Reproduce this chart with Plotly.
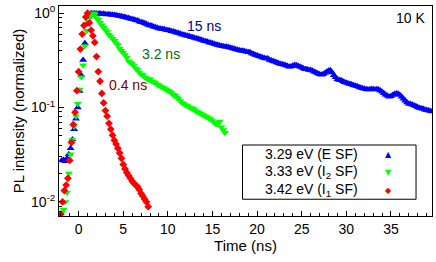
import plotly.graph_objects as go

# ---- data ----
t_blue = [-1.9, -1.7, -1.5, -1.3, -1.1, -0.9, -0.7, -0.5, -0.3, -0.1, 0.1, 0.3, 0.5, 0.7, 0.9, 1.1,
          1.4, 1.6, 1.8, 2.0, 2.2, 2.4, 2.6, 2.8, 3.0, 3.2, 3.4, 3.6, 3.8, 4.0, 4.2, 4.4, 4.6, 4.8,
          5.0, 5.2, 5.4, 5.6, 5.8, 6.0, 6.2, 6.4, 6.6, 6.8, 7.0, 7.2, 7.4, 7.6, 7.8, 8.0, 8.2, 8.4,
          8.6, 8.8, 9.0, 9.2, 9.4, 9.6, 9.8, 10.0, 10.2, 10.4, 10.6, 10.8, 11.0, 11.2, 11.4, 11.6,
          11.8, 12.0, 12.2, 12.4, 12.6, 12.8, 13.0, 13.2, 13.4, 13.6, 13.8, 14.0, 14.2, 14.4, 14.6,
          14.8, 15.0, 15.2, 15.4, 15.6, 15.8, 16.0, 16.2, 16.4, 16.6, 16.8, 17.0, 17.2, 17.4, 17.6,
          17.8, 18.0, 18.2, 18.4, 18.6, 18.8, 19.0, 19.2, 19.4, 19.6, 19.8, 20.0, 20.2, 20.4, 20.6,
          20.8, 21.0, 21.2, 21.4, 21.6, 21.8, 22.0, 22.2, 22.4, 22.6, 22.8, 23.0, 23.2, 23.4, 23.6,
          23.8, 24.0, 24.2, 24.4, 24.6, 24.8, 25.0, 25.2, 25.4, 25.6, 25.8, 26.0, 26.2, 26.4, 26.6,
          26.8, 27.0, 27.2, 27.4, 27.6, 27.8, 28.0, 28.2, 28.4, 28.6, 28.8, 29.0, 29.2, 29.4, 29.6,
          29.8, 30.0, 30.2, 30.4, 30.6, 30.8, 31.0, 31.2, 31.4, 31.6, 31.8, 32.0, 32.2, 32.4, 32.6,
          32.8, 33.0, 33.2, 33.4, 33.6, 33.8, 34.0, 34.2, 34.4, 34.6, 34.8, 35.0, 35.2, 35.4, 35.6,
          35.8, 36.0, 36.2, 36.4, 36.6, 36.8, 37.0, 37.2, 37.4, 37.6, 37.8, 38.0, 38.2, 38.4, 38.6,
          38.8, 39.0, 39.2, 39.4, 39.6]
i_blue = [0.0275, 0.028, 0.027, 0.029, 0.032, 0.037, 0.046, 0.059, 0.076, 0.10, 0.15, 0.22, 0.32,
          0.48, 0.76, 0.91,
          1.0, 0.99, 1.0, 0.99, 0.985, 0.99, 0.98, 0.985, 0.975, 0.97, 0.975, 0.965, 0.96, 0.955,
          0.95, 0.94, 0.935, 0.925, 0.91, 0.91, 0.895, 0.89, 0.875, 0.86, 0.855, 0.84, 0.835, 0.815,
          0.80, 0.795, 0.78, 0.77, 0.75, 0.74, 0.735, 0.72, 0.715, 0.70, 0.69, 0.685, 0.68, 0.675,
          0.665, 0.66, 0.655, 0.645, 0.64, 0.63, 0.62, 0.615, 0.605, 0.595, 0.59, 0.58, 0.575, 0.57,
          0.56, 0.555, 0.547, 0.54, 0.535, 0.525, 0.52, 0.51, 0.505, 0.50, 0.49, 0.485, 0.48, 0.47,
          0.465, 0.46, 0.455, 0.45, 0.445, 0.44, 0.44, 0.435, 0.43, 0.425, 0.42, 0.415, 0.41, 0.405,
          0.40, 0.40, 0.395, 0.39, 0.385, 0.385, 0.375, 0.37, 0.36, 0.355, 0.35, 0.345, 0.34, 0.335,
          0.33, 0.33, 0.32, 0.315, 0.31, 0.305, 0.30, 0.295, 0.29, 0.288, 0.285, 0.28, 0.275, 0.27,
          0.272, 0.278, 0.282, 0.28, 0.275, 0.27, 0.265, 0.26, 0.255, 0.255, 0.25, 0.25, 0.245, 0.24,
          0.235, 0.23, 0.225, 0.222, 0.225, 0.232, 0.24, 0.245, 0.248, 0.235, 0.22, 0.21, 0.20, 0.196,
          0.195, 0.19, 0.185, 0.183, 0.18, 0.178, 0.175, 0.172, 0.17, 0.168, 0.165, 0.162, 0.16,
          0.158, 0.156, 0.155, 0.155, 0.157, 0.156, 0.155, 0.156, 0.155, 0.152, 0.147, 0.142, 0.137,
          0.133, 0.13, 0.132, 0.136, 0.139, 0.141, 0.14, 0.136, 0.13, 0.124, 0.118, 0.113, 0.11,
          0.109, 0.107, 0.105, 0.103, 0.101, 0.099, 0.098, 0.097, 0.095, 0.094, 0.093, 0.092, 0.091]

t_green = [-1.9, -1.7, -1.5, -1.3, -1.1, -0.9, -0.7, -0.5, -0.3, -0.1, 0.1, 0.3, 0.5, 0.7, 0.9, 1.1,
           1.3, 1.5, 1.7, 1.8, 2.0, 2.2, 2.4, 2.6, 2.8, 3.0, 3.2, 3.4, 3.6, 3.8, 4.0, 4.2, 4.4, 4.6,
           4.8, 5.0, 5.2, 5.4, 5.6, 5.8, 6.0, 6.2, 6.4, 6.6, 6.8, 7.0, 7.2, 7.4, 7.6, 7.8, 8.0, 8.2,
           8.4, 8.6, 8.8, 9.0, 9.2, 9.4, 9.6, 9.8, 10.0, 10.2, 10.4, 10.6, 10.8, 11.0, 11.2, 11.4,
           11.6, 11.8, 12.0, 12.2, 12.4, 12.6, 12.8, 13.0, 13.2, 13.4, 13.6, 13.8, 14.0, 14.2, 14.4,
           14.6, 14.8, 15.0, 15.2, 15.4, 15.6, 15.8, 16.0, 16.2, 16.4]
i_green = [0.0076, 0.0083, 0.010, 0.0126, 0.020, 0.032, 0.046, 0.063, 0.081, 0.11, 0.155, 0.21, 0.28,
           0.45, 0.65, 0.81, 0.91, 0.98, 1.0, 0.97, 0.89, 0.85, 0.79, 0.745, 0.70, 0.665, 0.63, 0.59,
           0.565, 0.535, 0.51, 0.48, 0.46, 0.42, 0.40, 0.38, 0.36, 0.34, 0.31, 0.30, 0.29, 0.275, 0.26,
           0.25, 0.235, 0.225, 0.22, 0.21, 0.205, 0.20, 0.20, 0.19, 0.186, 0.182, 0.176, 0.172, 0.167,
           0.163, 0.16, 0.155, 0.151, 0.148, 0.143, 0.137, 0.133, 0.128, 0.123, 0.117, 0.112, 0.109,
           0.106, 0.104, 0.101, 0.099, 0.097, 0.094, 0.091, 0.089, 0.087, 0.085, 0.083, 0.081, 0.079,
           0.077, 0.075, 0.072, 0.069, 0.067, 0.066, 0.071, 0.062, 0.058, 0.054]

t_red = [-2.0, -1.8, -1.6, -1.4, -1.2, -1.0, -0.8, -0.6, -0.4, -0.2, 0.0, 0.2, 0.4, 0.6, 0.8, 1.0,
         1.2, 1.4, 1.6, 1.8, 2.0, 2.2, 2.4, 2.6, 2.8, 3.0, 3.2, 3.4, 3.6, 3.8, 4.0, 4.2, 4.4, 4.6, 4.8,
         5.0, 5.2, 5.4, 5.6, 5.8, 6.0, 6.2, 6.4, 6.6, 6.8, 7.0, 7.2, 7.4, 7.6, 7.8]
i_red = [0.0074, 0.010, 0.0132, 0.0151, 0.0178, 0.0275, 0.0427, 0.066, 0.089, 0.151, 0.24, 0.417, 0.60,
         0.74, 0.91, 1.0, 0.79, 0.66, 0.575, 0.49, 0.347, 0.24, 0.19, 0.141, 0.112, 0.093, 0.081, 0.068,
         0.059, 0.051, 0.045, 0.041, 0.037, 0.033, 0.029, 0.025, 0.0224, 0.0204, 0.0191, 0.0178, 0.0166,
         0.0158, 0.0151, 0.0145, 0.0135, 0.0123, 0.0115, 0.0107, 0.0100, 0.0089]

series_names = ["3.29 eV (E SF)", "3.33 eV (I<sub>2</sub> SF)", "3.42 eV (I<sub>1</sub> SF)"]
lifetime_labels = ["15 ns", "3.2 ns", "0.4 ns"]
x_ticks = [0, 5, 10, 15, 20, 25, 30, 35]
y_ticks = [0.01, 0.1, 1]
y_ticktext = ["10<sup>-2</sup>", "10<sup>-1</sup>", "10<sup>0</sup>"]

FONT = "Liberation Sans, Arial, Helvetica, sans-serif"

fig = go.Figure()
fig.add_trace(go.Scatter(x=t_blue, y=i_blue, mode="markers", name=series_names[0],
                         marker=dict(symbol="triangle-up", size=7, color="#0000ff", line=dict(width=0))))
fig.add_trace(go.Scatter(x=t_green, y=i_green, mode="markers", name=series_names[1],
                         marker=dict(symbol="triangle-down", size=7, color="#00ff00", line=dict(width=0))))
fig.add_trace(go.Scatter(x=t_red, y=i_red, mode="markers", name=series_names[2],
                         marker=dict(symbol="diamond", size=6, color="#ff0000", line=dict(width=0))))

L, R, T, B = 59, 3, 3, 46
W, H = 436, 262
pw, ph = W - L - R, H - T - B


def px(x):
    return (x - L) / pw


def py(y):
    return (H - B - y) / ph


annotations = [
    dict(x=px(185), y=py(23), text=lifetime_labels[0], xanchor="left", yanchor="middle",
         font=dict(color="#000090", size=14)),
    dict(x=px(140), y=py(52), text=lifetime_labels[1], xanchor="left", yanchor="middle",
         font=dict(color="#007000", size=14)),
    dict(x=px(107), y=py(83), text=lifetime_labels[2], xanchor="left", yanchor="middle",
         font=dict(color="#800000", size=14)),
    dict(x=px(428), y=py(15), text="10 K", xanchor="right", yanchor="middle",
         font=dict(color="black", size=14)),
]
legend_rows = [153.3, 171.7, 190.0]
legend_syms = ["▲", "▼", "◆"]
legend_cols = ["#0000ff", "#00ff00", "#ff0000"]
for name, yy, sym, col in zip(series_names, legend_rows, legend_syms, legend_cols):
    annotations.append(dict(x=px(361), y=py(yy), text=name, xanchor="right", yanchor="middle",
                            font=dict(color="black", size=14)))
    annotations.append(dict(x=px(389), y=py(yy), text=sym, xanchor="center", yanchor="middle",
                            font=dict(color=col, size=8, family="DejaVu Sans")))
for a in annotations:
    a.update(xref="paper", yref="paper", showarrow=False)

fig.update_layout(
    width=W, height=H,
    margin=dict(l=L, r=R, t=T, b=B, pad=0),
    paper_bgcolor="white", plot_bgcolor="white",
    showlegend=False,
    font=dict(family=FONT, size=14, color="black"),
    annotations=annotations,
    shapes=[dict(type="rect", xref="paper", yref="paper",
                 x0=px(243), x1=px(417), y0=py(199), y1=py(144),
                 line=dict(color="black", width=1), fillcolor="rgba(0,0,0,0)")],
)
fig.update_xaxes(
    range=[-2.2, 39.6], showgrid=False, zeroline=False,
    showline=True, linecolor="black", linewidth=1, mirror=True,
    ticks="inside", ticklen=5, tickcolor="black",
    tickvals=x_ticks, tickfont=dict(size=14),
    minor=dict(ticks="inside", ticklen=3, dtick=1, tickcolor="black", showgrid=False),
    title=dict(text="Time (ns)", font=dict(size=15), standoff=4),
)
fig.update_yaxes(
    type="log", range=[-2.149, 0.076], showgrid=False, zeroline=False,
    showline=True, linecolor="black", linewidth=1, mirror=True,
    ticks="inside", ticklen=5, tickcolor="black",
    tickvals=y_ticks, ticktext=y_ticktext, tickfont=dict(size=14),
    minor=dict(ticks="inside", ticklen=3, dtick="D1", tickcolor="black", showgrid=False),
    title=dict(text="PL intensity (normalized)", font=dict(size=15), standoff=2),
)

fig.write_html("out.html", config={"displayModeBar": False},
               post_script="document.body.style.margin='0';")
